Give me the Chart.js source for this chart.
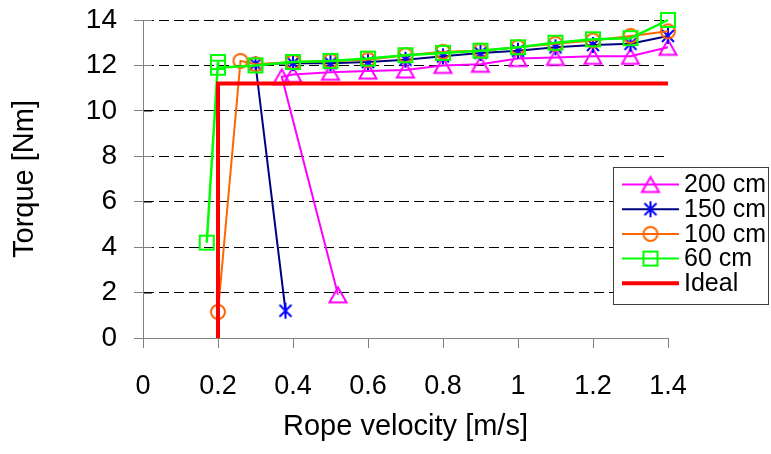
<!DOCTYPE html>
<html>
<head>
<meta charset="utf-8">
<script src="https://cdn.jsdelivr.net/npm/chart.js@4/dist/chart.umd.min.js"></script>
<style>
  html, body { margin: 0; background: #fff; }
  #wrap { width: 771px; height: 454px; }
</style>
</head>
<body>
<div id="wrap"><canvas id="chart"></canvas></div>
<script>
const seriesNames = ['200 cm', '150 cm', '100 cm', '60 cm', 'Ideal'];

// rope velocity [m/s] and torque [Nm] per rope length
const v200 = [0.52, 0.37, 0.4, 0.5, 0.6, 0.7, 0.8, 0.9, 1.0, 1.1, 1.2, 1.3, 1.4];
const t200 = [1.9, 11.5, 11.6, 11.7, 11.75, 11.8, 12.0, 12.05, 12.3, 12.35, 12.4, 12.4, 12.8];

const v150 = [0.38, 0.3, 0.4, 0.5, 0.6, 0.7, 0.8, 0.9, 1.0, 1.1, 1.2, 1.3, 1.4];
const t150 = [1.2, 12.05, 12.1, 12.1, 12.15, 12.25, 12.4, 12.55, 12.65, 12.8, 12.9, 12.95, 13.3];

const v100 = [0.2, 0.26, 0.3, 0.4, 0.5, 0.6, 0.7, 0.8, 0.9, 1.0, 1.1, 1.2, 1.3, 1.4];
const t100 = [1.15, 12.2, 12.05, 12.15, 12.2, 12.25, 12.45, 12.6, 12.65, 12.8, 12.95, 13.1, 13.3, 13.5];

const v60 = [0.17, 0.2, 0.2, 0.3, 0.4, 0.5, 0.6, 0.7, 0.8, 0.9, 1.0, 1.1, 1.2, 1.3, 1.4];
const t60 = [4.2, 12.15, 11.9, 12.0, 12.15, 12.2, 12.3, 12.45, 12.55, 12.65, 12.8, 13.0, 13.15, 13.2, 14.0];

const vIdeal = [0.2, 0.2, 1.4];
const tIdeal = [0, 11.2, 11.2];

const FONT = "'Liberation Sans', Arial, sans-serif";

function toPoints(xs, ys) {
  return xs.map((x, i) => ({ x: x, y: ys[i] }));
}

// hollow Excel-like markers drawn on small canvases
function makeMarker(kind, color) {
  const c = document.createElement('canvas');
  c.width = 24; c.height = 24;
  const g = c.getContext('2d');
  g.strokeStyle = color;
  g.lineWidth = 2;
  g.beginPath();
  if (kind === 'triangle') {
    g.moveTo(12, 4.5); g.lineTo(20.5, 19.5); g.lineTo(3.5, 19.5); g.closePath();
  } else if (kind === 'star') {
    g.moveTo(12, 4); g.lineTo(12, 20);
    g.moveTo(6, 6); g.lineTo(18, 18);
    g.moveTo(18, 6); g.lineTo(6, 18);
  } else if (kind === 'circle') {
    g.arc(12, 12, 7, 0, Math.PI * 2);
  } else if (kind === 'square') {
    g.rect(5, 5, 14, 14);
  }
  g.stroke();
  return c;
}

const markTri = makeMarker('triangle', '#ff00ff');
const markStar = makeMarker('star', '#0000ff');
const markCirc = makeMarker('circle', '#ff6600');
const markSq = makeMarker('square', '#00ff00');

// legend drawn like the Excel box, plus inner half of y ticks
const excelBits = {
  id: 'excelBits',
  afterDraw(chart) {
    const ctx = chart.ctx;
    const y = chart.scales.y;
    const x0 = chart.chartArea.left;
    ctx.save();
    ctx.strokeStyle = '#808080';
    ctx.lineWidth = 1;
    y.ticks.forEach(t => {
      const py = Math.round(y.getPixelForValue(t.value)) + 0.5;
      ctx.beginPath(); ctx.moveTo(x0, py); ctx.lineTo(x0 + 9, py); ctx.stroke();
    });

    const bx = 613.5, by = 167.5, bw = 155, bh = 137;
    ctx.fillStyle = '#fff';
    ctx.fillRect(bx, by, bw, bh);
    ctx.strokeStyle = '#404040';
    ctx.strokeRect(bx, by, bw, bh);

    ctx.font = '25px ' + FONT;
    ctx.textBaseline = 'middle';
    ctx.textAlign = 'left';
    chart.data.datasets.forEach((ds, i) => {
      const ry = 184.5 + i * 24.7;
      ctx.strokeStyle = ds.borderColor;
      ctx.lineWidth = i === 4 ? 4 : 2;
      ctx.beginPath(); ctx.moveTo(622, ry); ctx.lineTo(679, ry); ctx.stroke();
      if (ds.pointStyle instanceof HTMLCanvasElement) {
        ctx.drawImage(ds.pointStyle, 650.5 - 12, ry - 12);
      }
      ctx.fillStyle = '#000';
      ctx.fillText(ds.label, 684, ry + 1);
    });
    ctx.restore();
  }
};

const ctx = document.getElementById('chart').getContext('2d');
const chart = new Chart(ctx, {
  type: 'scatter',
  data: {
    datasets: [
      { label: seriesNames[0], data: toPoints(v200, t200), borderColor: '#ff00ff', borderWidth: 2,
        pointStyle: markTri, order: 5 },
      { label: seriesNames[1], data: toPoints(v150, t150), borderColor: '#000080', borderWidth: 2,
        pointStyle: markStar, order: 4 },
      { label: seriesNames[2], data: toPoints(v100, t100), borderColor: '#ff6600', borderWidth: 2,
        pointStyle: markCirc, order: 3 },
      { label: seriesNames[3], data: toPoints(v60, t60), borderColor: '#00ff00', borderWidth: 2.5,
        pointStyle: markSq, order: 2 },
      { label: seriesNames[4], data: toPoints(vIdeal, tIdeal), borderColor: '#ff0000', borderWidth: 4,
        pointRadius: 0, order: 1 }
    ]
  },
  options: {
    responsive: true,
    maintainAspectRatio: false,
    animation: false,
    showLine: true,
    clip: false,
    layout: { padding: { left: 0, right: 103, top: 20, bottom: 0 } },
    elements: {
      line: { tension: 0, fill: false },
      point: { radius: 8, hoverRadius: 8 }
    },
    plugins: {
      legend: { display: false },
      tooltip: { enabled: false }
    },
    scales: {
      x: {
        type: 'linear',
        min: 0, max: 1.4,
        afterFit: s => { s.height = 116; s.paddingLeft = 0; s.paddingRight = 0; },
        ticks: {
          stepSize: 0.2,
          color: '#000',
          padding: 22,
          maxRotation: 0,
          font: { family: FONT, size: 27 },
          callback: v => String(Number(v.toFixed(1)))
        },
        grid: { drawOnChartArea: false, drawTicks: true, tickLength: 10, tickColor: '#808080' },
        border: { color: '#808080', width: 1 },
        title: { display: true, text: 'Rope velocity [m/s]', color: '#000',
                 font: { family: FONT, size: 29 }, padding: { top: 0, bottom: 10 } }
      },
      y: {
        min: 0, max: 14,
        afterFit: s => { s.width = 143; s.paddingTop = 0; s.paddingBottom = 0; },
        ticks: {
          stepSize: 2,
          color: '#000',
          padding: 17,
          font: { family: FONT, size: 28 }
        },
        grid: {
          color: c => c.tick && c.tick.value === 0 ? 'rgba(0,0,0,0)' : '#000',
          lineWidth: 1,
          tickLength: 9,
          tickColor: '#808080'
        },
        border: { color: '#808080', width: 1, dash: [10, 5] },
        title: { display: true, text: 'Torque [Nm]', color: '#000',
                 font: { family: FONT, size: 29 }, padding: { top: 8, bottom: 0 } }
      }
    }
  },
  plugins: [excelBits]
});
</script>
</body>
</html>
